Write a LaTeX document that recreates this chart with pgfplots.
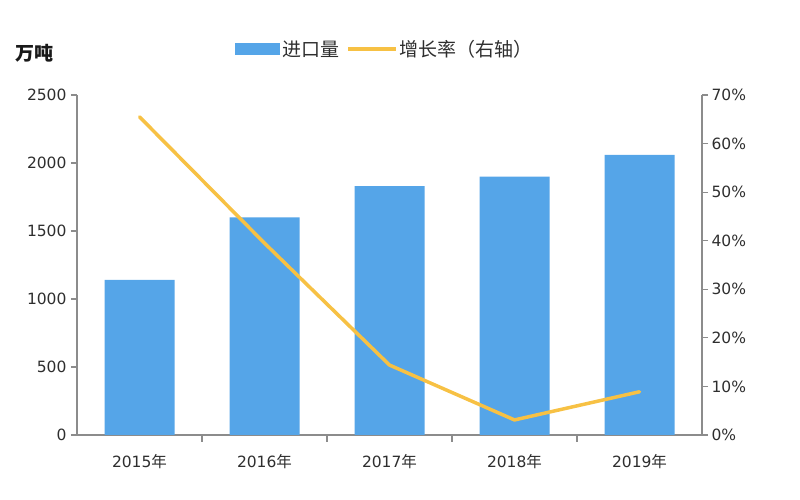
\documentclass[border=0pt]{standalone}
\usepackage{fontspec}
\setmainfont{DejaVu Sans}
\newfontfamily\cjk{Noto Sans CJK SC}
\usepackage{pgfplots}
\pgfplotsset{compat=1.18}
\definecolor{barblue}{HTML}{55A5E8}
\definecolor{lineyel}{HTML}{F7C144}
\definecolor{axgray}{HTML}{8C8C8C}
\definecolor{txt}{HTML}{2E2E2E}
\begin{document}
\begin{tikzpicture}[x=1pt,y=1pt]
\path[use as bounding box] (0,0) rectangle (800,500);
\begin{axis}[
  at={(77pt,65pt)}, anchor=south west,
  scale only axis, width=625pt, height=340pt,
  xmin=-0.5, xmax=4.5, ymin=0, ymax=2500,
  axis x line*=bottom, axis y line*=left,
  axis line style={axgray, line width=1.2pt, -},
  xtick={0,1,2,3,4},
  xticklabels={2015{\cjk 年},2016{\cjk 年},2017{\cjk 年},2018{\cjk 年},2019{\cjk 年}},
  minor xtick={0.5,1.5,2.5,3.5},
  x tick style={draw=none},
  minor x tick style={draw=axgray, line width=1.2pt},
  minor tick length=7pt,
  ytick={0,500,...,2500},
  y tick style={axgray, line width=1.2pt},
  major tick length=6pt,
  tick align=outside,
  tick label style={font=\fontsize{15.5}{15.5}\selectfont, text=txt},
  /pgf/number format/assume math mode=true,
  /pgf/number format/1000 sep={},
  yticklabel style={xshift=-1pt},
  xticklabel style={yshift=-10pt},
  legend style={draw=none, fill=none, at={(0.493,1.135)}, anchor=center,
    font=\cjk\fontsize{19}{19}\selectfont, text=txt,
    /tikz/every even column/.append style={column sep=5pt}},
  legend columns=2,
]
\addplot[ybar, bar width=70pt, fill=barblue, draw=none,
  legend image code/.code={\fill[barblue] (0pt,-6pt) rectangle (45pt,6pt);}]
  coordinates {(0,1140) (1,1600) (2,1830) (3,1900) (4,2060)};
\addlegendentry{进口量}
\addlegendimage{legend image code/.code={\draw[lineyel, line width=3.5pt] (0pt,0pt) -- (48pt,0pt);}}
\addlegendentry{增长率（右轴）}
\end{axis}
\begin{axis}[
  at={(77pt,65pt)}, anchor=south west,
  scale only axis, width=625pt, height=340pt,
  xmin=-0.5, xmax=4.5, ymin=0, ymax=70,
  axis x line=none, axis y line*=right,
  axis line style={axgray, line width=1.2pt, -},
  ytick={0,10,...,70},
  yticklabel={\pgfmathprintnumber{\tick}\%},
  y tick style={axgray, line width=1.2pt},
  major tick length=6pt,
  tick align=outside,
  tick label style={font=\fontsize{15.5}{15.5}\selectfont, text=txt},
  /pgf/number format/assume math mode=true,
]
\addplot[lineyel, line width=3.5pt, line join=round, line cap=round, mark=none]
  coordinates {(0,65.5) (1,39.5) (2,14.4) (3,3.1) (4,8.9)};
\end{axis}
\node[font=\cjk\bfseries\fontsize{19}{19}\selectfont, text=black!90] at (35,447) {万吨};
\end{tikzpicture}
\end{document}
